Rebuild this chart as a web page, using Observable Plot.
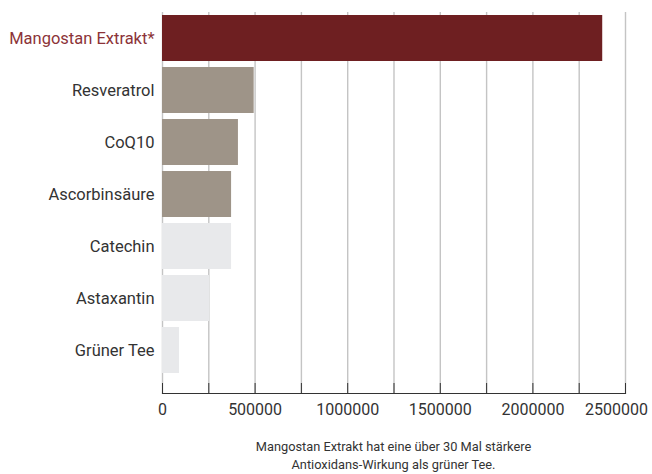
<!DOCTYPE html>
<html><head><meta charset="utf-8">
<script src="https://cdn.jsdelivr.net/npm/d3@7"></script>
<script src="https://cdn.jsdelivr.net/npm/@observablehq/plot@0.6"></script>
<style>
body{margin:0;background:#fff;font-family:Roboto,sans-serif;}
#chart{width:652px;}
#caption{margin-left:162px;width:463px;text-align:center;font-size:12.8px;line-height:18px;color:#333;padding-top:13px;}
</style></head><body>
<div id="chart"></div>
<div id="caption">Mangostan Extrakt hat eine über 30 Mal stärkere<br>Antioxidans-Wirkung als grüner Tee.</div>
<script>
const categories = ["Mangostan Extrakt*", "Resveratrol", "CoQ10", "Ascorbinsäure", "Catechin", "Astaxantin", "Grüner Tee"];
const values = [2377000, 495000, 410000, 373000, 373000, 254000, 92000];
const groups = ["highlight", "mid", "mid", "mid", "low", "low", "low"];
const gridTicks = [0, 250000, 500000, 750000, 1000000, 1250000, 1500000, 1750000, 2000000, 2250000, 2500000];
const labelTicks = [0, 500000, 1000000, 1500000, 2000000];
const lastTick = [2500000];

const data = categories.map((c, i) => ({name: c, value: values[i], group: groups[i]}));

const plot = Plot.plot({
  width: 652, height: 425,
  marginLeft: 162, marginRight: 27, marginTop: 12, marginBottom: 32,
  style: {fontFamily: "Roboto, sans-serif", background: "white", overflow: "visible"},
  x: {domain: [0, 2500000], axis: null},
  y: {domain: categories, range: [9, 379], paddingInner: 0.11, paddingOuter: 0.055, axis: null},
  color: {domain: ["highlight", "mid", "low"], range: ["#6e1f21", "#9e9488", "#e8e9eb"]},
  marks: [
    Plot.ruleX(gridTicks, {stroke: "#c4c4c4", strokeWidth: 1.4}),
    Plot.barX(data, {x: "value", y: "name", fill: "group"}),
    Plot.frame({anchor: "bottom", stroke: "#333", strokeWidth: 1.2}),
    Plot.axisX({ticks: gridTicks, tickSize: 10, dy: -10, tickFormat: () => "", label: null, stroke: "#333"}),
    Plot.axisX({ticks: labelTicks, tickSize: 0, tickPadding: 10, tickFormat: d => String(d), label: null, fontSize: 16, fill: "#333"}),
    Plot.axisX({ticks: lastTick, tickSize: 0, tickPadding: 10, dx: -9, tickFormat: d => String(d), label: null, fontSize: 16, fill: "#333"}),
    Plot.axisY({ticks: [categories[0]], tickSize: 0, tickPadding: 8, fontSize: 16.5, label: null, fill: "#8c3338"}),
    Plot.axisY({ticks: categories.slice(1), tickSize: 0, tickPadding: 8, fontSize: 16.5, label: null, fill: "#333"})
  ]
});
document.getElementById("chart").appendChild(plot);
</script>
</body></html>
